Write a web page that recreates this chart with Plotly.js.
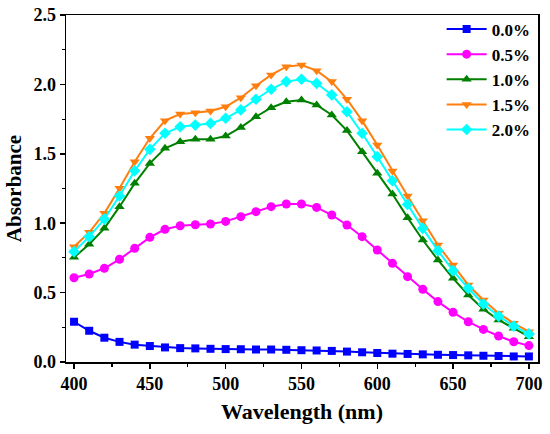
<!DOCTYPE html>
<html>
<head>
<meta charset="utf-8">
<script src="https://cdn.plot.ly/plotly-3.0.1.min.js"></script>
<style>html,body{margin:0;padding:0;background:#fff;}#chart{width:550px;height:434px;}</style>
</head>
<body>
<div id="chart"></div>
<script>
const wavelength = [400,410,420,430,440,450,460,470,480,490,500,510,520,530,540,550,560,570,580,590,600,610,620,630,640,650,660,670,680,690,700];
const s00 = [0.29,0.225,0.175,0.145,0.125,0.115,0.105,0.100,0.098,0.095,0.093,0.092,0.090,0.090,0.088,0.085,0.083,0.080,0.075,0.070,0.065,0.060,0.058,0.055,0.052,0.050,0.048,0.045,0.043,0.040,0.040];
const s05 = [0.607,0.634,0.675,0.740,0.819,0.898,0.956,0.982,0.989,0.994,1.013,1.047,1.083,1.119,1.138,1.138,1.114,1.059,0.987,0.903,0.807,0.711,0.615,0.524,0.435,0.358,0.290,0.235,0.187,0.146,0.118];
const s10 = [0.754,0.848,0.963,1.119,1.287,1.431,1.540,1.587,1.604,1.604,1.628,1.690,1.767,1.832,1.875,1.888,1.852,1.780,1.667,1.515,1.359,1.210,1.040,0.879,0.735,0.603,0.483,0.380,0.303,0.243,0.182];
const s15 = [0.830,0.934,1.071,1.251,1.443,1.612,1.739,1.787,1.796,1.808,1.839,1.904,1.990,2.068,2.128,2.140,2.099,2.020,1.893,1.739,1.563,1.376,1.196,1.017,0.843,0.699,0.555,0.447,0.351,0.279,0.218];
const s20 = [0.795,0.903,1.030,1.196,1.378,1.532,1.648,1.695,1.707,1.719,1.756,1.816,1.893,1.965,2.020,2.037,2.008,1.924,1.803,1.648,1.479,1.306,1.135,0.963,0.802,0.658,0.531,0.418,0.331,0.259,0.202];
const names = ['0.0%','0.5%','1.0%','1.5%','2.0%'];
const xTicks = [400,450,500,550,600,650,700];
const yTicks = [0.0,0.5,1.0,1.5,2.0,2.5];

const series = [s00,s05,s10,s15,s20];
const colors = ['#0000ff','#ff00ff','#008000','#ff7f0e','#00ffff'];
const symbols = ['square','circle','triangle-up','triangle-down','diamond'];
const sizes = [8,9,9,9,9];

const traces = series.map((ys,i)=>({
  x: wavelength, y: ys, name: names[i], type:'scatter', mode:'lines+markers',
  line:{color:colors[i], width:2},
  marker:{color:colors[i], symbol:symbols[i], size:sizes[i]}
}));

const font = {family:'"Liberation Serif", "Times New Roman", serif', color:'#000'};
const layout = {
  width:550, height:434,
  margin:{l:66, r:12, t:15, b:72},
  paper_bgcolor:'#fff', plot_bgcolor:'#fff',
  font: font,
  showlegend:true,
  legend:{x:0.995, y:1.01, xanchor:'right', yanchor:'top', bgcolor:'rgba(0,0,0,0)',
    font:{family:font.family, size:17, color:'#000', weight:'bold'}, itemwidth:40, tracegroupgap:0},
  xaxis:{
    range:[394.7,706], tickmode:'array', tickvals:xTicks, ticktext:xTicks.map(String),
    showgrid:false, zeroline:false, showline:true, linecolor:'#000', linewidth:1.5, mirror:true,
    ticks:'outside', ticklen:5, tickwidth:1.5, tickcolor:'#000',
    minor:{dtick:25, tick0:400, ticks:'outside', ticklen:3, tickwidth:1.2, tickcolor:'#000'},
    tickfont:{family:font.family, size:18, color:'#000', weight:'bold'},
    title:{text:'Wavelength (nm)', standoff:10, font:{family:font.family, size:22, color:'#000', weight:'bold'}}
  },
  yaxis:{
    range:[0,2.5], tickmode:'array', tickvals:yTicks, ticktext:yTicks.map(v=>v.toFixed(1)),
    showgrid:false, zeroline:false, showline:true, linecolor:'#000', linewidth:1.5, mirror:true,
    ticks:'outside', ticklen:5, tickwidth:1.5, tickcolor:'#000',
    minor:{dtick:0.25, tick0:0, ticks:'outside', ticklen:3, tickwidth:1.2, tickcolor:'#000'},
    tickfont:{family:font.family, size:18, color:'#000', weight:'bold'},
    title:{text:'Absorbance', standoff:6, font:{family:font.family, size:21, color:'#000', weight:'bold'}}
  }
};
Plotly.newPlot('chart', traces, layout, {displayModeBar:false, staticPlot:true});
</script>
</body>
</html>
